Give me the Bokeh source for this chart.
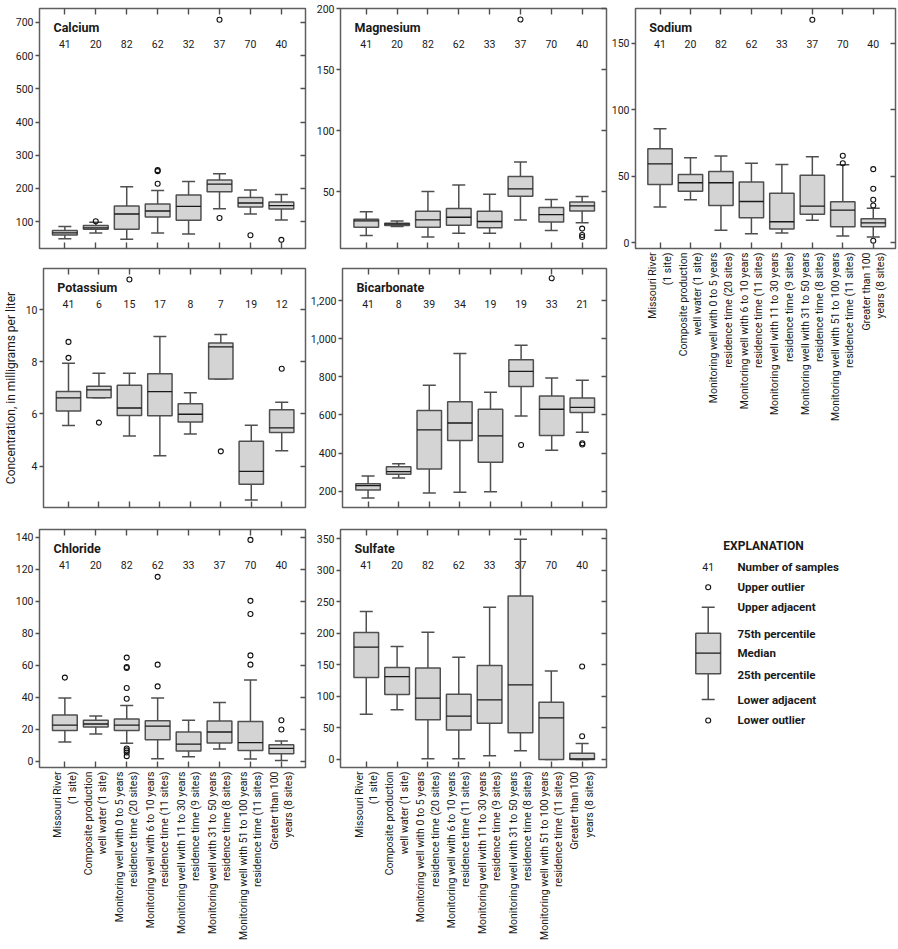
import numpy as np
from math import pi
from bokeh.plotting import figure
from bokeh.models import (Range1d, LinearAxis, FixedTicker, NumeralTickFormatter,
                          Label, ColumnDataSource)
from bokeh.layouts import row, column
from bokeh.embed import file_html
from bokeh.resources import INLINE
from bokeh.core.properties import value

FONT = "Roboto"
BOX_FILL = "#d4d4d4"
BOX_LINE = "#4f4f4f"
WHISKER = "#4f4f4f"
MEDIAN = "#1a1a1a"
FRAME = "#5f5f5f"
TEXT = "#1a1a1a"
BOX_W = 0.8

# ---------------- data ----------------
category_labels = [
    "Missouri River\n(1 site)",
    "Composite production\nwell water (1 site)",
    "Monitoring well with 0 to 5 years\nresidence time (20 sites)",
    "Monitoring well with 6 to 10 years\nresidence time (11 sites)",
    "Monitoring well with 11 to 30 years\nresidence time (9 sites)",
    "Monitoring well with 31 to 50 years\nresidence time (8 sites)",
    "Monitoring well with 51 to 100 years\nresidence time (11 sites)",
    "Greater than 100\nyears (8 sites)",
]
positions = [1, 2, 3, 4, 5, 6, 7, 8]

calcium_n = [41, 20, 82, 62, 32, 37, 70, 40]
calcium_low = [48, 66, 47, 66, 63, 139, 123, 105]
calcium_q1 = [60, 77, 77, 114, 104, 190, 144, 138]
calcium_med = [66, 81, 123, 132, 146, 213, 156, 148]
calcium_q3 = [73, 88, 147, 153, 180, 225, 173, 159]
calcium_high = [85, 98, 205, 194, 221, 244, 195, 182]
calcium_out_cat = [2, 4, 4, 4, 6, 6, 7, 8]
calcium_out_val = [101, 252, 255, 214, 708, 111, 59, 45]

magnesium_n = [41, 20, 82, 62, 33, 37, 70, 40]
magnesium_low = [14, 21.4, 12.9, 15.9, 15.9, 26.8, 18.1, 24.4]
magnesium_q1 = [20.8, 22.2, 20.8, 22.5, 20.3, 46.2, 25.2, 34.2]
magnesium_med = [26, 23.3, 26.8, 29, 25.5, 52.2, 31.2, 38.3]
magnesium_q3 = [27.4, 24.1, 33.9, 36.1, 33.9, 62.3, 36.9, 41.5]
magnesium_high = [33.6, 26, 50, 55.5, 47.8, 74.3, 43.5, 45.9]
magnesium_out_cat = [6, 8, 8, 8]
magnesium_out_val = [191, 19.7, 14.5, 12.8]

sodium_n = [41, 20, 82, 62, 33, 37, 70, 40]
sodium_low = [26.8, 32.3, 9.5, 6.8, 7.3, 17, 5, 4.3]
sodium_q1 = [43.8, 38.8, 28, 18.8, 10.3, 21.5, 12, 12]
sodium_med = [59.3, 45.1, 45.1, 31, 15.8, 27.5, 24.5, 15]
sodium_q3 = [70.6, 51.3, 53.6, 45.6, 37.3, 50.8, 30.8, 18]
sodium_high = [85.6, 63.9, 65.1, 59.8, 58.8, 64.6, 58.6, 26]
sodium_out_cat = [6, 7, 7, 8, 8, 8, 8, 8]
sodium_out_val = [167.5, 65.4, 59.8, 55.3, 40.6, 32.3, 28, 1.5]

potassium_n = [41, 6, 15, 17, 8, 7, 19, 12]
potassium_low = [5.56, 6.62, 5.16, 4.40, 5.23, 7.34, 2.71, 4.59]
potassium_q1 = [6.11, 6.62, 5.94, 5.93, 5.69, 7.34, 3.31, 5.29]
potassium_med = [6.62, 6.92, 6.23, 6.86, 5.99, 8.57, 3.80, 5.47]
potassium_q3 = [6.86, 7.06, 7.10, 7.54, 6.39, 8.72, 4.96, 6.16]
potassium_high = [7.94, 7.56, 7.56, 8.97, 6.81, 9.04, 5.57, 6.45]
potassium_out_cat = [1, 1, 2, 3, 6, 8]
potassium_out_val = [8.76, 8.15, 5.67, 11.15, 4.57, 7.73]

bicarbonate_n = [41, 8, 39, 34, 19, 19, 33, 21]
bicarbonate_low = [165, 270, 191, 195, 198, 595, 415, 509]
bicarbonate_q1 = [207, 289, 317, 466, 352, 749, 492, 613]
bicarbonate_med = [230, 303, 522, 558, 490, 829, 630, 640]
bicarbonate_q3 = [240, 329, 623, 670, 630, 889, 700, 689]
bicarbonate_high = [280, 345, 756, 922, 719, 966, 794, 782]
bicarbonate_out_cat = [6, 7, 8, 8]
bicarbonate_out_val = [443, 1317, 452, 445]

chloride_n = [41, 20, 82, 62, 33, 37, 70, 40]
chloride_low = [12.1, 17.1, 11.3, 1.7, 2.9, 7.7, 1.5, 0.6]
chloride_q1 = [19.4, 21.5, 19.4, 13.6, 6.5, 11.5, 6.9, 4.8]
chloride_med = [22.7, 23.4, 22.7, 22.1, 10.8, 18.4, 11.7, 8.1]
chloride_q3 = [29, 25.7, 26.5, 25.5, 18.4, 25.2, 25, 10.4]
chloride_high = [39.6, 28.4, 35, 39.6, 25.7, 36.9, 50.9, 12.7]
chloride_out_cat = [1, 3, 3, 3, 3, 3, 3, 3, 3, 3, 4, 4, 4, 7, 7, 7, 7, 7, 8, 8]
chloride_out_val = [52.4, 64.9, 59, 58.4, 45.9, 39.2, 8.1, 6.9, 5.6, 3.3,
                    115.4, 60.5, 46.9, 138.5, 100.4, 92.2, 66.3, 60.5, 25.7, 20]

sulfate_n = [41, 20, 82, 62, 33, 37, 70, 40]
sulfate_low = [71.9, 78.8, 1, 1, 5.8, 13.7, 0, 0]
sulfate_q1 = [130, 103.1, 62.9, 47, 57.6, 42.3, 0, 0]
sulfate_med = [178.2, 131.6, 97.3, 68.7, 94.6, 118.4, 66.1, 1]
sulfate_q3 = [201.4, 146, 145.4, 103.6, 149.1, 259.6, 90.9, 10]
sulfate_high = [234.7, 179.2, 202, 162.3, 241.6, 349.5, 140.6, 25.4]
sulfate_out_cat = [8, 8]
sulfate_out_val = [147.5, 37]

calcium_ticks = [100, 200, 300, 400, 500, 600, 700]
magnesium_ticks = [50, 100, 150, 200]
sodium_ticks = [0, 50, 100, 150]
potassium_ticks = [4, 6, 8, 10]
bicarbonate_ticks = [200, 400, 600, 800, 1000, 1200]
chloride_ticks = [0, 20, 40, 60, 80, 100, 120, 140]
sulfate_ticks = [0, 50, 100, 150, 200, 250, 300, 350]

y_axis_title = "Concentration, in milligrams per liter"
explanation_title = "EXPLANATION"
explanation_labels = ["Number of samples", "Upper outlier", "Upper adjacent",
                      "75th percentile", "Median", "25th percentile",
                      "Lower adjacent", "Lower outlier"]
explanation_count = "41"


def hidden_axis(ticks, tick_in):
    return LinearAxis(ticker=FixedTicker(ticks=ticks), major_tick_in=tick_in,
                      major_tick_out=0, minor_tick_in=0, minor_tick_out=0,
                      axis_line_color=None, major_tick_line_color=WHISKER,
                      major_tick_line_width=1.4, major_label_text_font_size="0px",
                      major_label_text_color=None, major_label_standoff=0)


def box_panel(title, n, low, q1, med, q3, high, out_cat, out_val, y_range, y_ticks,
              width, height, border, x_range, show_labels=False, comma=False,
              ylabel=None):
    bl, br, bt, bb = border
    fw = width - bl - br
    fh = height - bt - bb
    p = figure(width=width, height=height, x_range=Range1d(*x_range),
               y_range=Range1d(*y_range), output_backend="svg", toolbar_location=None,
               x_axis_location=None, y_axis_location=None,
               min_border_left=bl, min_border_right=br, min_border_top=bt,
               min_border_bottom=bb, background_fill_color="white",
               border_fill_color="white", outline_line_color=FRAME,
               outline_line_width=1.5)
    p.xgrid.visible = False
    p.ygrid.visible = False

    left = LinearAxis(ticker=FixedTicker(ticks=y_ticks), major_tick_out=4,
                      major_tick_in=0, minor_tick_in=0, minor_tick_out=0,
                      axis_line_color=None, major_tick_line_color=WHISKER,
                      major_tick_line_width=1.4, major_label_standoff=2,
                      major_label_text_font=FONT, major_label_text_font_size="10.5px",
                      major_label_text_color=TEXT)
    if comma:
        left.formatter = NumeralTickFormatter(format="0,0")
    if ylabel:
        left.axis_label = ylabel
        left.axis_label_text_font = FONT
        left.axis_label_text_font_size = "12px"
        left.axis_label_text_font_style = "normal"
        left.axis_label_text_color = TEXT
        left.axis_label_standoff = 5
    p.add_layout(left, "left")
    p.add_layout(hidden_axis(y_ticks, 5), "right")
    p.add_layout(hidden_axis(positions, 6), "above")
    bottom = hidden_axis(positions, 6)
    if show_labels:
        bottom.major_label_text_font_size = "10.5px"
        bottom.major_label_text_font = FONT
        bottom.major_label_text_color = TEXT
        bottom.major_label_standoff = 4
        bottom.major_label_orientation = pi / 2
        bottom.major_label_text_line_height = 1.1
        bottom.major_label_overrides = {k: v for k, v in zip(positions, category_labels)}
    p.add_layout(bottom, "below")

    xs = np.array(positions, dtype=float)
    src = ColumnDataSource(dict(x=xs, x0=xs - BOX_W / 2, x1=xs + BOX_W / 2,
                                low=low, q1=q1, med=med, q3=q3, high=high))
    p.segment("x", "q3", "x", "high", source=src, line_color=WHISKER, line_width=1.5)
    p.segment("x", "low", "x", "q1", source=src, line_color=WHISKER, line_width=1.5)
    p.scatter("x", "high", source=src, marker="dash", size=13,
              line_color=WHISKER, line_width=1.5)
    p.scatter("x", "low", source=src, marker="dash", size=13,
              line_color=WHISKER, line_width=1.5)
    p.vbar(x="x", width=BOX_W, bottom="q1", top="q3", source=src,
           fill_color=BOX_FILL, line_color=BOX_LINE, line_width=1.5)
    p.segment("x0", "med", "x1", "med", source=src, line_color=MEDIAN, line_width=1.3)
    p.scatter(out_cat, out_val, marker="circle", size=5, fill_color=None,
              line_color="#111111", line_width=1.1)

    ys = (y_range[1] - y_range[0]) / fh
    xsc = (x_range[1] - x_range[0]) / fw
    p.text(xs, [y_range[1] - 35.5 * ys] * len(n), text=[str(v) for v in n],
           text_align="center", text_baseline="middle", text_font=value(FONT),
           text_font_size="10.5px", text_color=TEXT)
    p.add_layout(Label(x=x_range[0] + 14 * xsc, y=y_range[1] - 19 * ys, text=title,
                       text_font=FONT, text_font_style="bold", text_font_size="12.5px",
                       text_baseline="middle", text_align="left", text_color=TEXT))
    return p


LEFT_X = (0.18, 8.78)
MID_X = (0.165, 8.79)
NA_X = (0.195, 8.73)
LW, MW, NW = 307, 301, 290

ca = box_panel("Calcium", calcium_n, calcium_low, calcium_q1, calcium_med, calcium_q3,
               calcium_high, calcium_out_cat, calcium_out_val, (19, 742), calcium_ticks,
               LW, 258, (39, 2, 8, 10), LEFT_X)
mg = box_panel("Magnesium", magnesium_n, magnesium_low, magnesium_q1, magnesium_med,
               magnesium_q3, magnesium_high, magnesium_out_cat, magnesium_out_val,
               (3.4, 200), magnesium_ticks, MW, 258, (33, 2, 8, 10), MID_X)
na = box_panel("Sodium", sodium_n, sodium_low, sodium_q1, sodium_med, sodium_q3,
               sodium_high, sodium_out_cat, sodium_out_val, (-4.3, 176), sodium_ticks,
               NW, 517, (22, 3, 8, 269), NA_X, show_labels=True)
k = box_panel("Potassium", potassium_n, potassium_low, potassium_q1, potassium_med,
              potassium_q3, potassium_high, potassium_out_cat, potassium_out_val,
              (2.42, 11.57), potassium_ticks, LW, 259, (39, 2, 10, 10), LEFT_X,
              ylabel=y_axis_title)
hco3 = box_panel("Bicarbonate", bicarbonate_n, bicarbonate_low, bicarbonate_q1,
                 bicarbonate_med, bicarbonate_q3, bicarbonate_high, bicarbonate_out_cat,
                 bicarbonate_out_val, (115, 1368), bicarbonate_ticks, MW, 259,
                 (33, 2, 10, 10), MID_X, comma=True)
cl = box_panel("Chloride", chloride_n, chloride_low, chloride_q1, chloride_med,
               chloride_q3, chloride_high, chloride_out_cat, chloride_out_val,
               (-3.8, 145), chloride_ticks, LW, 432, (39, 2, 12, 182), LEFT_X,
               show_labels=True)
so4 = box_panel("Sulfate", sulfate_n, sulfate_low, sulfate_q1, sulfate_med, sulfate_q3,
                sulfate_high, sulfate_out_cat, sulfate_out_val, (-12.7, 365),
                sulfate_ticks, MW, 432, (33, 2, 12, 182), MID_X, show_labels=True)

# ---------------- explanation (page-pixel coordinates, frame aligned with row) ----------
ex = figure(width=NW, height=432, x_range=Range1d(608, 898), y_range=Range1d(767, 529),
            output_backend="svg", toolbar_location=None, x_axis_location=None,
            y_axis_location=None, min_border_left=0, min_border_right=0,
            min_border_top=12, min_border_bottom=182, outline_line_color=None,
            background_fill_color="white", border_fill_color="white")
ex.xgrid.visible = False
ex.ygrid.visible = False
sym_x = 707.7
text_x = 737
entry_y = [566, 586.7, 606.7, 633.3, 652.7, 674.3, 699, 719.3]
box_top, box_bottom = 632.7, 673.3
box_half = 12.4
ex.text([763], [545], text=[explanation_title], text_align="center",
        text_baseline="middle", text_font=value(FONT), text_font_style="bold",
        text_font_size="12px", text_color=TEXT)
ex.text([text_x] * len(explanation_labels), entry_y, text=explanation_labels,
        text_align="left", text_baseline="middle", text_font=value(FONT),
        text_font_style="bold", text_font_size="11.5px", text_color=TEXT)
ex.text([sym_x], [entry_y[0]], text=[explanation_count], text_align="center",
        text_baseline="middle", text_font=value(FONT), text_font_size="10.5px",
        text_color=TEXT)
ex.scatter([sym_x, sym_x], [entry_y[1], entry_y[7] + 0.7], marker="circle", size=5,
           fill_color=None, line_color="#111111", line_width=1.1)
ex.segment([sym_x, sym_x], [entry_y[2], box_bottom], [sym_x, sym_x],
           [box_top, entry_y[6]], line_color=WHISKER, line_width=1.5)
ex.scatter([sym_x, sym_x], [entry_y[2], entry_y[6]], marker="dash", size=13,
           line_color=WHISKER, line_width=1.5)
ex.quad(left=[sym_x - box_half], right=[sym_x + box_half], top=[box_top],
        bottom=[box_bottom], fill_color=BOX_FILL, line_color=BOX_LINE, line_width=1.5)
ex.segment([sym_x - box_half], [entry_y[4]], [sym_x + box_half], [entry_y[4]],
           line_color=MEDIAN, line_width=1.3)

layout = column(row(column(row(ca, mg), row(k, hco3)), na), row(cl, so4, ex))
open("out.html", "w").write(file_html(layout, INLINE))
